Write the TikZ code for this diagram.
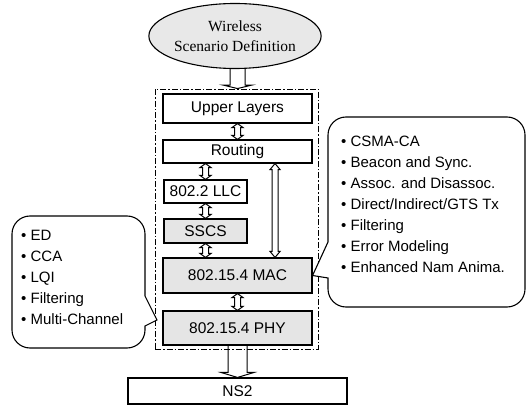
\documentclass[tikz,border=0pt]{standalone}
\usepackage{fontspec}
\setmainfont{Liberation Sans}
\newfontfamily\timesface{Liberation Serif}
\usetikzlibrary{shapes.geometric,calc}

\tikzset{
  layer/.style={draw, line width=1.1pt, fill=white, inner sep=0pt, font=\fontsize{15.5}{18}\selectfont},
  graylayer/.style={layer, fill=black!10},
  bubble/.style={draw, line width=1.1pt, fill=white},
  bullets/.style={anchor=west, align=left, inner sep=0pt, font=\fontsize{15}{21}\selectfont},
  % hollow arrow pointing down: half width, barb, head length
  hollow/.style n args={3}{line width=1pt, to path={let \p1=(\tikztostart), \p2=(\tikztotarget) in
    (\x1-#1,\y1) -- (\x1-#1,\y2+#3) -- (\x1-#1-#2,\y2+#3) -- (\x1,\y2)
    -- (\x1+#1+#2,\y2+#3) -- (\x1+#1,\y2+#3) -- (\x1+#1,\y1)}},
  % hollow arrow with a head at both ends
  hollowtwo/.style n args={3}{line width=1pt, fill=white, to path={let \p1=(\tikztostart), \p2=(\tikztotarget) in
    (\x1-#1,\y1-#3) -- (\x1-#1-#2,\y1-#3) -- (\x1,\y1) -- (\x1+#1+#2,\y1-#3) -- (\x1+#1,\y1-#3)
    -- (\x1+#1,\y2+#3) -- (\x1+#1+#2,\y2+#3) -- (\x1,\y2) -- (\x1-#1-#2,\y2+#3) -- (\x1-#1,\y2+#3) -- cycle}},
}

\begin{document}
\begin{tikzpicture}[x=1pt, y=-1pt]
    \useasboundingbox (0,0) rectangle (527,406);

    % Scenario
    \node[ellipse, draw, line width=1.1pt, fill=black!9, minimum width=144pt, minimum height=65pt,
          inner sep=0pt, align=center, font=\timesface\fontsize{15.5}{20}\selectfont]
          (scen) at (235,36) {Wireless\\Scenario Definition};

    % Frame round the stack
    \node[draw, line width=0.9pt, dash pattern=on 6pt off 2pt on 1.5pt off 2pt,
          minimum width=163pt, minimum height=260pt] (stack) at (236.5,219) {};

    % Layers
    \node[layer, minimum width=149pt, minimum height=29pt] (upper) at (237.5,108.5) {Upper Layers};
    \node[layer, minimum width=149pt, minimum height=23pt] (routing) at (237.5,151.5) {Routing};
    \node[layer, minimum width=83pt, minimum height=23pt] (llc) at (205.5,191.5) {802.2 LLC};
    \node[graylayer, minimum width=83pt, minimum height=24pt] (sscs) at (205.5,231) {SSCS};
    \node[graylayer, minimum width=149pt, minimum height=35pt] (mac) at (237.5,275.5) {802.15.4 MAC};
    \node[graylayer, minimum width=149pt, minimum height=34pt] (phy) at (237.5,328) {802.15.4 PHY};
    \node[layer, minimum width=219pt, minimum height=26pt] (ns2) at (237.5,391) {NS2};

    % Arrows
    \draw[hollow={7.5pt}{7pt}{3.5pt}] (scen.south -| upper.north) to (stack.north -| upper.north);
    \draw[hollowtwo={3pt}{2.5pt}{4pt}] (upper.south) to (routing.north);
    \draw[hollowtwo={3pt}{2.5pt}{4pt}] (llc.north |- routing.south) to (llc.north);
    \draw[hollowtwo={3pt}{2.5pt}{4pt}] (llc.south) to (sscs.north);
    \draw[hollowtwo={3pt}{2.5pt}{4pt}] (sscs.south) to (sscs.south |- mac.north);
    \draw[hollowtwo={3pt}{2.5pt}{4pt}] (mac.south) to (phy.north);
    \coordinate (rm) at ($(routing.south west)!.75!(routing.south east)$);
    \draw[hollowtwo={3pt}{2pt}{6pt}] (rm) to (rm |- mac.north);
    \draw[hollow={9.5pt}{7pt}{5pt}] (phy.south) to (ns2.north);

    % Callout for the MAC
    \draw[bubble] (mac.east) -- (328,242) [rounded corners=18pt] -- (328,117) -- (525,117)
        -- (525,307) -- (328,307) [sharp corners] -- (328,278) -- cycle;
    \node[bullets] (macitems) at (341,204) {\textbullet\ CSMA-CA\\
        \textbullet\ Beacon and Sync.\\
        \textbullet\ Assoc. and Disassoc.\\
        \textbullet\ Direct/Indirect/GTS Tx\\
        \textbullet\ Filtering\\
        \textbullet\ Error Modeling\\
        \textbullet\ Enhanced Nam Anima.};

    % Callout for the PHY
    \draw[bubble] (157,320) -- (145,296) [rounded corners=18pt] -- (145,216) -- (12,216)
        -- (12,348) -- (145,348) [sharp corners] -- (145,326) -- cycle;
    \node[bullets] (phyitems) at (21,277) {\textbullet\ ED\\
        \textbullet\ CCA\\
        \textbullet\ LQI\\
        \textbullet\ Filtering\\
        \textbullet\ Multi-Channel};
\end{tikzpicture}
\end{document}
